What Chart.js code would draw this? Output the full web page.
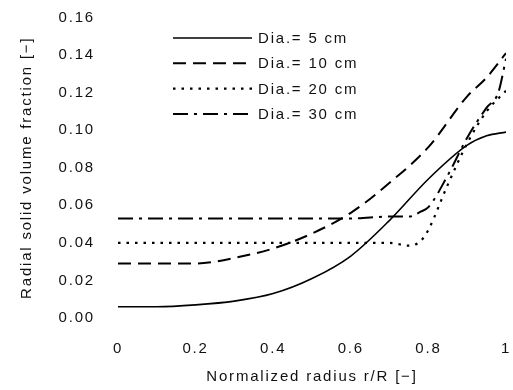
<!DOCTYPE html>
<html>
<head>
<meta charset="utf-8">
<script src="https://cdn.jsdelivr.net/npm/chart.js@4"></script>
<style>
  html, body { margin: 0; padding: 0; background: #fff; }
  #wrap { width: 513px; height: 390px; }
</style>
</head>
<body>
<div id="wrap"><canvas id="c" width="513" height="390"></canvas></div>
<script>
// ---- data ----
const seriesLabels = ['Dia.= 5 cm', 'Dia.= 10 cm', 'Dia.= 20 cm', 'Dia.= 30 cm'];

const r5  = [0, 0.1, 0.2, 0.3, 0.4, 0.5, 0.6, 0.7, 0.8, 0.9, 0.95, 1.0];
const v5  = [0.006, 0.006, 0.007, 0.009, 0.013, 0.021, 0.033, 0.052, 0.074, 0.092, 0.097, 0.099];

const r10 = [0, 0.1, 0.2, 0.25, 0.3, 0.4, 0.5, 0.6, 0.7, 0.8, 0.9, 0.95, 1.0];
const v10 = [0.029, 0.029, 0.029, 0.030, 0.032, 0.037, 0.045, 0.056, 0.072, 0.091, 0.118, 0.128, 0.141];

const r20 = [0, 0.1, 0.2, 0.3, 0.4, 0.5, 0.6, 0.7, 0.75, 0.78, 0.8, 0.85, 0.9, 0.95, 1.0];
const v20 = [0.040, 0.040, 0.040, 0.040, 0.040, 0.040, 0.040, 0.040, 0.0385, 0.041, 0.047, 0.071, 0.093, 0.110, 0.121];

const r30 = [0, 0.1, 0.2, 0.3, 0.4, 0.5, 0.6, 0.7, 0.75, 0.78, 0.8, 0.85, 0.9, 0.95, 0.98, 1.0];
const v30 = [0.053, 0.053, 0.053, 0.053, 0.053, 0.053, 0.053, 0.054, 0.054, 0.0566, 0.059, 0.076, 0.096, 0.112, 0.120, 0.138];

const xTickLabels = ['0', '0.2', '0.4', '0.6', '0.8', '1'];
const yTickLabels = ['0.00', '0.02', '0.04', '0.06', '0.08', '0.10', '0.12', '0.14', '0.16'];

const xTitle = 'Normalized radius r/R [\u2212]';
const yTitle = 'Radial solid volume fraction [\u2212]';

// ---- build ----
const toPts = (xs, ys) => xs.map((x, i) => ({ x: x, y: ys[i] }));
const styles = [
  { dash: [], width: 1.6 },
  { dash: [13, 7], width: 2 },
  { dash: [2.5, 6], width: 2.2 },
  { dash: [15, 6, 3, 6], width: 2 }
];
const rs = [r5, r10, r20, r30];
const vs = [v5, v10, v20, v30];

const FONT = 'Liberation Sans, Arial, sans-serif';
const SPACING = '1.8px';

const spacingPlugin = {
  id: 'spacing',
  beforeUpdate(chart) { chart.ctx.letterSpacing = SPACING; },
  beforeLayout(chart) { chart.ctx.letterSpacing = SPACING; },
  beforeDraw(chart) { chart.ctx.letterSpacing = SPACING; }
};

const legendPlugin = {
  id: 'dashLegend',
  afterDraw(chart) {
    const ctx = chart.ctx;
    ctx.save();
    ctx.letterSpacing = SPACING;
    chart.data.datasets.forEach((ds, i) => {
      const y = 38 + i * 25.3;
      ctx.beginPath();
      ctx.setLineDash(ds.borderDash || []);
      ctx.lineWidth = ds.borderWidth;
      ctx.strokeStyle = '#000';
      ctx.moveTo(173, y);
      ctx.lineTo(252, y);
      ctx.stroke();
      ctx.setLineDash([]);
      ctx.fillStyle = '#111';
      ctx.font = '15px ' + FONT;
      ctx.textBaseline = 'middle';
      ctx.textAlign = 'left';
      ctx.fillText(ds.label, 258, y + 1);
    });
    ctx.restore();
  }
};

new Chart(document.getElementById('c'), {
  type: 'line',
  data: {
    datasets: seriesLabels.map((lab, i) => ({
      label: lab,
      data: toPts(rs[i], vs[i]),
      borderColor: '#000',
      backgroundColor: '#000',
      borderWidth: styles[i].width,
      borderDash: styles[i].dash,
      pointRadius: 0,
      fill: false,
      cubicInterpolationMode: 'monotone'
    }))
  },
  options: {
    responsive: false,
    animation: false,
    devicePixelRatio: 1,
    layout: { padding: { top: 17.5, right: 7, left: 0, bottom: 0 } },
    plugins: { legend: { display: false }, tooltip: { enabled: false } },
    scales: {
      x: {
        type: 'linear',
        min: 0, max: 1,
        border: { display: false },
        grid: { display: false },
        ticks: {
          stepSize: 0.2,
          color: '#111',
          font: { family: FONT, size: 15 },
          padding: 14,
          maxRotation: 0,
          callback: (v, i) => xTickLabels[i]
        },
        title: {
          display: true, text: xTitle, color: '#111',
          font: { family: FONT, size: 15 },
          padding: { top: 4, bottom: 4 }
        },
        afterFit(scale) { scale.height = 72; scale.paddingLeft = 0; scale.paddingRight = 0; }
      },
      y: {
        min: 0, max: 0.16,
        border: { display: false },
        grid: { display: false },
        ticks: {
          stepSize: 0.02,
          color: '#111',
          font: { family: FONT, size: 15 },
          padding: 15,
          callback: (v, i) => yTickLabels[i]
        },
        title: {
          display: true, text: yTitle, color: '#111',
          font: { family: FONT, size: 15 },
          padding: { top: 18, bottom: 4 }
        },
        afterFit(scale) { scale.width = 118; scale.paddingTop = 0; scale.paddingBottom = 0; }
      }
    }
  },
  plugins: [spacingPlugin, legendPlugin]
});
</script>
</body>
</html>
